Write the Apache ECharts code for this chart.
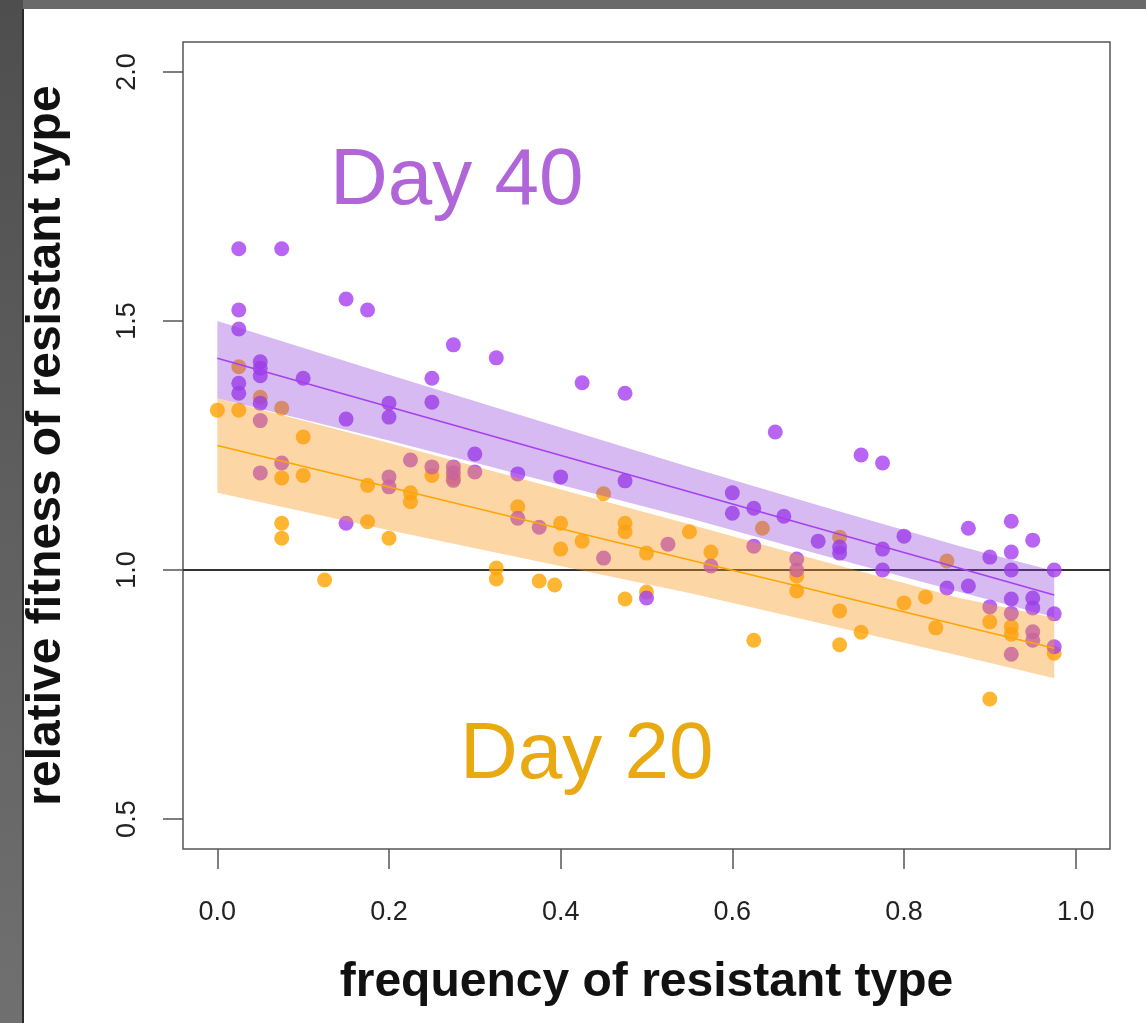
<!DOCTYPE html>
<html>

<head>
  <meta charset="utf-8">
  <title>relative fitness vs frequency</title>
  <style>
    html, body { margin: 0; padding: 0; background: #fff; }
    #chart { width: 1146px; height: 1023px; }
  </style>
</head>

<body>
  <div id="chart"></div>
  <script src="https://cdn.jsdelivr.net/npm/echarts@6/dist/echarts.min.js"></script>

  <script type="text/javascript">
    // tick labels
    var xTicks = [0, 0.2, 0.4, 0.6, 0.8, 1.0];
    var yTicks = [0.5, 1.0, 1.5, 2.0];

    // Day 20 points (orange)
    var day20 = [
      [0, 1.321], [0.025, 1.321], [0.025, 1.408], [0.05, 1.347], [0.075, 1.325],
      [0.075, 1.185], [0.075, 1.094], [0.075, 1.064], [0.1, 1.267], [0.1, 1.19],
      [0.125, 0.98], [0.175, 1.17], [0.175, 1.097], [0.2, 1.064], [0.225, 1.155],
      [0.225, 1.137], [0.25, 1.19], [0.275, 1.185], [0.325, 1.004], [0.325, 0.982],
      [0.35, 1.127], [0.375, 0.978], [0.393, 0.97], [0.4, 1.094], [0.4, 1.042],
      [0.425, 1.058], [0.45, 1.153], [0.475, 1.094], [0.475, 1.077], [0.475, 0.942],
      [0.5, 1.034], [0.5, 0.956], [0.55, 1.077], [0.575, 1.036], [0.625, 0.859],
      [0.635, 1.084], [0.675, 0.988], [0.675, 0.958], [0.725, 1.066], [0.725, 0.918],
      [0.725, 0.85], [0.75, 0.875], [0.8, 0.934], [0.825, 0.946], [0.837, 0.884],
      [0.85, 1.018], [0.9, 0.896], [0.9, 0.741], [0.925, 0.886], [0.925, 0.871],
      [0.975, 0.833]
    ];

    // Day 40 points (purple)
    var day40 = [
      [0.025, 1.645], [0.075, 1.645], [0.025, 1.522], [0.025, 1.484], [0.025, 1.375],
      [0.025, 1.355], [0.05, 1.418], [0.05, 1.405], [0.05, 1.39], [0.05, 1.335],
      [0.05, 1.30], [0.05, 1.195], [0.075, 1.215], [0.1, 1.385], [0.15, 1.544],
      [0.15, 1.303], [0.15, 1.094], [0.175, 1.522], [0.2, 1.335], [0.2, 1.307],
      [0.2, 1.187], [0.2, 1.167], [0.225, 1.221], [0.25, 1.385], [0.25, 1.337],
      [0.25, 1.207], [0.275, 1.452], [0.275, 1.207], [0.275, 1.195], [0.275, 1.18],
      [0.3, 1.233], [0.3, 1.197], [0.325, 1.426], [0.35, 1.193], [0.35, 1.104],
      [0.375, 1.086], [0.4, 1.187], [0.425, 1.376], [0.45, 1.024], [0.475, 1.355],
      [0.475, 1.179], [0.5, 0.944], [0.525, 1.052], [0.575, 1.008], [0.6, 1.155],
      [0.6, 1.114], [0.625, 1.124], [0.625, 1.048], [0.65, 1.277], [0.66, 1.108],
      [0.675, 1.022], [0.675, 1.0], [0.7, 1.058], [0.725, 1.046], [0.725, 1.034],
      [0.75, 1.231], [0.775, 1.215], [0.775, 1.042], [0.775, 1.0], [0.8, 1.068],
      [0.85, 0.964], [0.875, 1.084], [0.875, 0.968], [0.9, 1.026], [0.9, 0.926],
      [0.925, 1.098], [0.925, 1.036], [0.925, 1.0], [0.925, 0.942], [0.925, 0.913],
      [0.925, 0.831], [0.95, 1.06], [0.95, 0.944], [0.95, 0.924], [0.95, 0.876],
      [0.95, 0.859], [0.975, 1.0], [0.975, 0.912], [0.975, 0.846]
    ];

    // fitted lines and confidence bands
    var bandX = [0, 0.2, 0.55, 0.7, 0.865, 0.975];
    var fit40 = [1.425, 1.328, 1.157, 1.083, 1.004, 0.950];
    var up40 = [1.500, 1.392, 1.207, 1.130, 1.048, 0.998];
    var lo40 = [1.345, 1.260, 1.104, 1.032, 0.956, 0.905];
    var fit20 = [1.250, 1.167, 1.020, 0.957, 0.889, 0.843];
    var up20 = [1.345, 1.255, 1.092, 1.020, 0.944, 0.904];
    var lo20 = [1.155, 1.080, 0.954, 0.894, 0.828, 0.783];

    var refY = 1.0;

    function pairs(xs, ys) {
      return xs.map(function (x, i) { return [x, ys[i]]; });
    }

    function band(up, lo, color, z) {
      return {
        type: 'custom',
        z: z,
        silent: true,
        data: [[bandX[0], up[0]]],
        renderItem: function (params, api) {
          var pts = [];
          for (var i = 0; i < bandX.length; i++) pts.push(api.coord([bandX[i], up[i]]));
          for (var j = bandX.length - 1; j >= 0; j--) pts.push(api.coord([bandX[j], lo[j]]));
          return { type: 'polygon', shape: { points: pts }, style: { fill: color } };
        }
      };
    }

    var chart = echarts.init(document.getElementById('chart'));
    chart.setOption({
      animation: false,
      backgroundColor: '#ffffff',
      graphic: [
        { type: 'rect', left: 0, top: 0, z: -10, shape: { width: 1146, height: 9 },
          style: { fill: '#6a6a6a' } },
        { type: 'rect', left: 0, top: 0, z: -10, shape: { width: 23, height: 1023 },
          style: { fill: new echarts.graphic.LinearGradient(0, 0, 0, 1, [
            { offset: 0, color: '#4e4e4e' }, { offset: 1, color: '#707070' }]) } },
        { type: 'line', z: -9, shape: { x1: 23, y1: 9, x2: 23, y2: 1023 },
          style: { stroke: '#2a2a2a', lineWidth: 2 } },
        { type: 'text', left: 330, top: 142, z: 10,
          style: { text: 'Day 40', fill: '#b066d9', font: '80px "Liberation Sans", Arial, sans-serif' } },
        { type: 'text', left: 460, top: 716, z: 10,
          style: { text: 'Day 20', fill: '#e9a913', font: '80px "Liberation Sans", Arial, sans-serif' } }
      ],
      grid: {
        left: 183, right: 36, top: 42, bottom: 174,
        show: true, borderColor: '#555', borderWidth: 1.5,
        containLabel: false
      },
      xAxis: {
        type: 'value', min: -0.04, max: 1.04,
        name: 'frequency of resistant type',
        nameLocation: 'middle', nameGap: 110,
        nameTextStyle: { fontFamily: '"Liberation Sans", Arial', fontWeight: 'bold', fontSize: 48, color: '#111' },
        axisLine: { show: false, onZero: false },
        splitLine: { show: false },
        axisTick: { show: true, length: 20, lineStyle: { color: '#555', width: 1.5 }, customValues: xTicks },
        axisLabel: {
          customValues: xTicks, margin: 50, fontSize: 27, color: '#222',
          fontFamily: '"Liberation Sans", Arial',
          formatter: function (v) { return v.toFixed(1); }
        }
      },
      yAxis: {
        type: 'value', min: 0.44, max: 2.06,
        name: 'relative fitness of resistant type',
        nameLocation: 'middle', nameGap: 112,
        nameTextStyle: { fontFamily: '"Liberation Sans", Arial', fontWeight: 'bold', fontSize: 48, color: '#111' },
        axisLine: { show: false, onZero: false },
        splitLine: { show: false },
        axisTick: { show: true, length: 20, lineStyle: { color: '#555', width: 1.5 }, customValues: yTicks },
        axisLabel: {
          customValues: yTicks, margin: 42, fontSize: 27, color: '#222', rotate: 90,
          fontFamily: '"Liberation Sans", Arial',
          formatter: function (v) { return v.toFixed(1); }
        }
      },
      series: [
        {
          type: 'line', z: 1, silent: true, symbol: 'none',
          data: [[-0.04, refY], [1.04, refY]],
          lineStyle: { color: '#333', width: 2 }
        },
        {
          name: 'Day 20', type: 'scatter', z: 2, symbolSize: 15,
          itemStyle: { color: '#ffa500' }, data: day20
        },
        {
          name: 'Day 40', type: 'scatter', z: 2, symbolSize: 15,
          itemStyle: { color: '#a63ff0' }, data: day40
        },
        band(up40, lo40, 'rgba(138,58,215,0.35)', 3),
        band(up20, lo20, 'rgba(250,152,30,0.40)', 3),
        {
          type: 'line', z: 4, silent: true, symbol: 'none',
          data: pairs([bandX[0], bandX[bandX.length - 1]], [fit40[0], fit40[fit40.length - 1]]),
          lineStyle: { color: '#a63ff0', width: 1.5 }
        },
        {
          type: 'line', z: 4, silent: true, symbol: 'none',
          data: pairs([bandX[0], bandX[bandX.length - 1]], [fit20[0], fit20[fit20.length - 1]]),
          lineStyle: { color: '#ffa500', width: 1.5 }
        }
      ]
    });
    window.addEventListener('resize', chart.resize);
  </script>
</body>

</html>
